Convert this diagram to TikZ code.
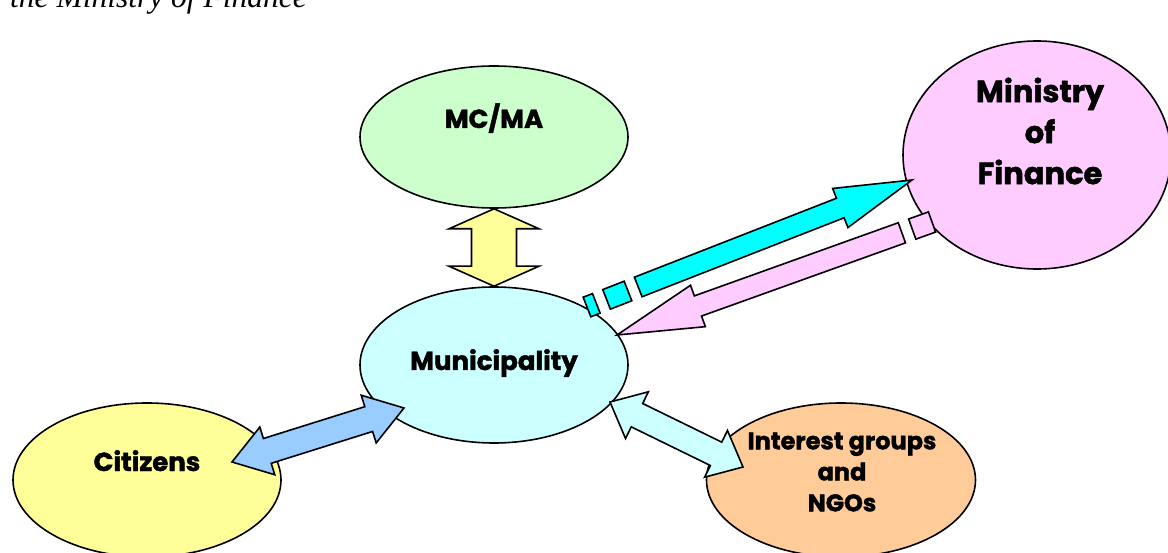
\documentclass[tikz,border=0pt]{standalone}
\usepackage{fontspec}
\setmainfont{Poppins}[BoldFeatures={FakeBold=1.6}]
\newfontfamily\capfont{Liberation Serif}
\usetikzlibrary{calc,shapes.geometric}
\definecolor{lineblack}{RGB}{0,0,0}
\definecolor{bubgreen}{RGB}{204,255,204}
\definecolor{bubpink}{RGB}{255,204,255}
\definecolor{bubcyan}{RGB}{204,255,255}
\definecolor{bubyellow}{RGB}{255,255,153}
\definecolor{buborange}{RGB}{255,204,153}
\definecolor{arrcyan}{RGB}{0,255,255}
\definecolor{arrblue}{RGB}{153,204,255}

% block arrow with a head at both ends: from, to, head length, head half width, shaft half width, fill
\newcommand{\dblarrow}[6]{%
  \coordinate (a1) at ($(#1)!#3!(#2)$);
  \coordinate (a2) at ($(#2)!#3!(#1)$);
  \draw[blockline, fill=#6] (#1) -- ($(a1)!#4!90:(#2)$) -- ($(a1)!#5!90:(#2)$)
    -- ($(a2)!#5!-90:(#1)$) -- ($(a2)!#4!-90:(#1)$) -- (#2)
    -- ($(a2)!#4!90:(#1)$) -- ($(a2)!#5!90:(#1)$)
    -- ($(a1)!#5!-90:(#2)$) -- ($(a1)!#4!-90:(#2)$) -- cycle;
}
% block arrow with one head: shaft start, tip, head length, head half width, shaft half width, fill
\newcommand{\headarrow}[6]{%
  \coordinate (a1) at ($(#2)!#3!(#1)$);
  \draw[blockline, fill=#6] ($(#1)!#5!90:(#2)$) -- ($(a1)!#5!-90:(#1)$)
    -- ($(a1)!#4!-90:(#1)$) -- (#2) -- ($(a1)!#4!90:(#1)$)
    -- ($(a1)!#5!90:(#1)$) -- ($(#1)!#5!-90:(#2)$) -- cycle;
}
% one stripe of a striped tail: tail, tip, from, to, half width, fill
\newcommand{\stripebar}[6]{%
  \coordinate (b1) at ($(#1)!#3!(#2)$);
  \coordinate (b2) at ($(#1)!#4!(#2)$);
  \draw[blockline, fill=#6] ($(b1)!#5!90:(#2)$) -- ($(b2)!#5!90:(#2)$)
    -- ($(b2)!#5!-90:(#2)$) -- ($(b1)!#5!-90:(#2)$) -- cycle;
}

\begin{document}
\begin{tikzpicture}[
  x=1pt, y=-1pt,
  bubble/.style={ellipse, draw=lineblack, line width=1.6pt, inner sep=0pt},
  bubtext/.style={inner sep=0pt, align=center, font=\fontsize{26}{31}\selectfont\bfseries},
  blockline/.style={draw=lineblack, line width=1.6pt, line join=miter, miter limit=20}
]
\useasboundingbox (0,0) rectangle (1168,553);
\node[anchor=base west, inner sep=0pt, font=\capfont\itshape\fontsize{31.5}{36}\selectfont] (caption) at (10,8) {the Ministry of Finance};

\node[bubble, fill=bubgreen, minimum width=268pt, minimum height=142pt] (mcma) at (494,137) {};
\node[bubble, fill=bubpink, minimum width=268pt, minimum height=228pt] (mof) at (1037,155) {};
\node[bubble, fill=bubcyan, minimum width=268pt, minimum height=156pt] (muni) at (494,365) {};
\node[bubble, fill=bubyellow, minimum width=268pt, minimum height=154pt] (citizens) at (147,480) {};
\node[bubble, fill=buborange, minimum width=269pt, minimum height=154pt] (ngo) at (841,480) {};

\node[bubtext, anchor=base] (mcmatext) at (494,128) {MC/MA};
\node[bubtext, anchor=center, font=\fontsize{30.5}{41}\selectfont\bfseries] (moftext) at (1040,131) {Ministry\\of\\Finance};
\node[bubtext, anchor=base] (munitext) at (494,370) {Municipality};
\node[bubtext, anchor=base] (citizenstext) at (147,471) {Citizens};
\node[bubtext, anchor=center, font=\fontsize{24}{31}\selectfont\bfseries] (ngotext) at (842,472) {Interest groups\\and\\NGOs};

% arrows between the bubbles
\dblarrow{mcma.south}{muni.north}{20pt}{45pt}{22.5pt}{bubyellow}

\coordinate (citend) at (232,462);
\coordinate (munisw) at (404,408);
\dblarrow{citend}{munisw}{37pt}{25pt}{13pt}{arrblue}

\coordinate (munise) at (610,402);
\coordinate (ngoend) at (743,467);
\dblarrow{munise}{ngoend}{30pt}{26pt}{13pt}{bubcyan}

\coordinate (cyantail) at (587,307);
\coordinate (cyantip) at (912,180);
\coordinate (cyanshaft) at ($(cyantail)!55pt!(cyantip)$);
\stripebar{cyantail}{cyantip}{0pt}{10pt}{10.5pt}{arrcyan}
\stripebar{cyantail}{cyantip}{21pt}{44pt}{10.5pt}{arrcyan}
\headarrow{cyanshaft}{cyantip}{77pt}{21pt}{10.5pt}{arrcyan}

\coordinate (pinktail) at (932,222);
\coordinate (pinktip) at (617,335);
\coordinate (pinkshaft) at ($(pinktail)!32pt!(pinktip)$);
\stripebar{pinktail}{pinktip}{0pt}{21pt}{10.7pt}{bubpink}
\headarrow{pinkshaft}{pinktip}{86pt}{22pt}{10.7pt}{bubpink}
\end{tikzpicture}
\end{document}
